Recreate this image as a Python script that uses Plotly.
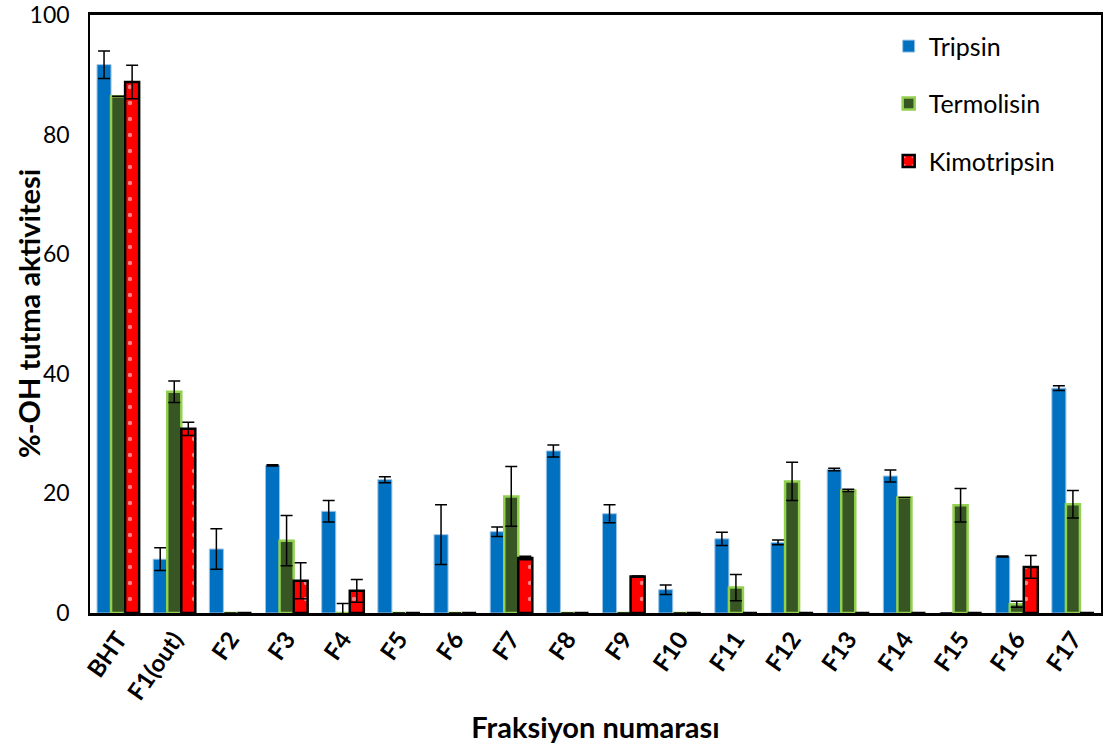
import plotly.graph_objects as go

categories = ["BHT", "F1(out)", "F2", "F3", "F4", "F5", "F6", "F7", "F8", "F9",
              "F10", "F11", "F12", "F13", "F14", "F15", "F16", "F17"]

tripsin = [91.7, 9.0, 10.7, 24.7, 17.0, 22.3, 13.1, 13.6, 27.1, 16.6,
           3.9, 12.4, 11.8, 24.0, 22.9, 0.0, 9.45, 37.6]
tripsin_err = [2.3, 1.9, 3.4, 0.1, 1.8, 0.5, 5.0, 0.8, 1.0, 1.5,
               0.8, 1.1, 0.4, 0.2, 1.0, 0.0, 0.1, 0.4]

termolisin = [86.4, 37.0, 0.0, 12.1, 0.0, 0.0, 0.0, 19.5, 0.0, 0.0,
              0.0, 4.25, 22.0, 20.5, 19.3, 18.0, 1.45, 18.2]
termolisin_err = [0.0, 1.8, 0.0, 4.2, 1.6, 0.0, 0.0, 5.0, 0.0, 0.0,
                  0.0, 2.2, 3.2, 0.2, 0.0, 2.8, 0.5, 2.3]

kimotripsin = [88.8, 30.8, 0.0, 5.4, 3.7, 0.0, 0.0, 9.2, 0.0, 6.1,
               0.0, 0.0, 0.0, 0.0, 0.0, 0.0, 7.7, 0.0]
kimotripsin_err = [2.8, 1.1, 0.0, 3.0, 1.9, 0.0, 0.0, 0.3, 0.0, 0.1,
                   0.0, 0.0, 0.0, 0.0, 0.0, 0.0, 1.9, 0.0]

FONT = "Lato, Carlito, Calibri, sans-serif"


def err(vals):
    return dict(type="data", array=vals, visible=True, color="black",
                thickness=1.5, width=6)


fig = go.Figure()

fig.add_trace(go.Bar(x=categories, y=tripsin, name="Tripsin",
                     legendgroup="a",
                     marker=dict(color="#0070C0",
                                 line=dict(color="#9DC3E6", width=1)),
                     error_y=err(tripsin_err)))

fig.add_trace(go.Bar(x=categories, y=termolisin, name="Termolisin",
                     legendgroup="b",
                     marker=dict(color="#375623",
                                 line=dict(color="#92D050", width=2.5)),
                     error_y=err(termolisin_err)))

fig.add_trace(go.Bar(x=categories, y=kimotripsin, name="Kimotripsin",
                     legendgroup="c",
                     marker=dict(color="#FF0000",
                                 line=dict(color="black", width=2.5),
                                 pattern=dict(shape=".", fgcolor="white",
                                              bgcolor="#FF0000", size=16,
                                              solidity=0.06)),
                     error_y=err(kimotripsin_err)))

fig.update_layout(
    width=1107, height=749,
    barmode="group", bargap=0.25, bargroupgap=0,
    plot_bgcolor="white", paper_bgcolor="white",
    margin=dict(l=90, r=6, t=15, b=136),
    font=dict(family=FONT, color="black"),
    legend=dict(x=0.79, y=0.986, xanchor="left", yanchor="top",
                font=dict(size=25), tracegroupgap=22,
                bgcolor="rgba(0,0,0,0)"),
    showlegend=True,
)

fig.update_xaxes(
    tickangle=-55, tickfont=dict(size=24, family=FONT, weight="bold"),
    showline=True, linecolor="black", linewidth=2.5, mirror=True,
    ticks="", showgrid=False, automargin=False,
    title=dict(text="Fraksiyon numarası",
               font=dict(size=29, family=FONT, weight="bold"), standoff=14),
)

fig.update_yaxes(
    range=[0, 100], tickvals=[0, 20, 40, 60, 80, 100],
    tickfont=dict(size=23, family=FONT), ticklabeloverflow="allow",
    ticklabelstandoff=14,
    showline=True, linecolor="black", linewidth=1.5, mirror=True,
    ticks="", showgrid=False, zeroline=False, automargin=False,
)

# y title placed by hand, it sits closer to the tick labels than plotly allows
fig.add_annotation(text="%-OH tutma aktivitesi", textangle=-90,
                   xref="paper", yref="paper", x=-62 / 1011, y=0.5,
                   xanchor="center", yanchor="middle", showarrow=False,
                   font=dict(size=29, family=FONT, weight="bold"))

# drop the browser's default body margin so the figure sits at the page origin
fig.write_html("out.html", config={"displayModeBar": False},
               post_script="document.body.style.margin='0';")
